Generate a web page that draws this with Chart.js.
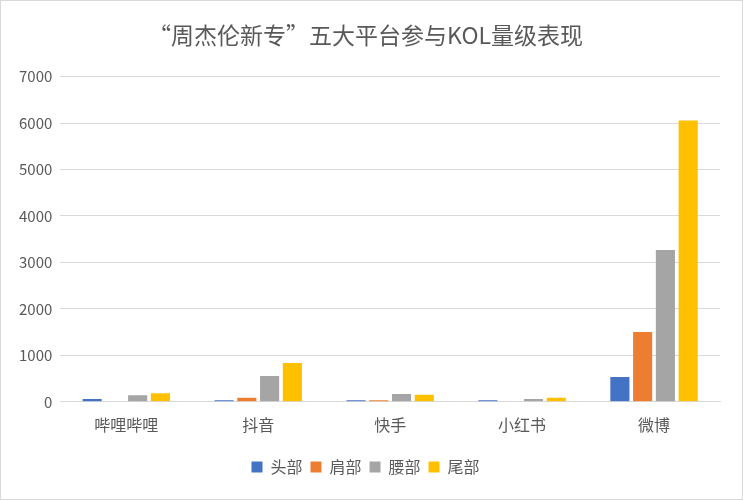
<!DOCTYPE html>
<html>
<head>
<meta charset="utf-8">
<script src="https://cdn.jsdelivr.net/npm/chart.js@4"></script>
<style>
  html, body { margin: 0; padding: 0; background: #fff; }
  #wrap { position: relative; width: 741px; height: 498px; border: 1px solid #d9d9d9; }
</style>
</head>
<body>
<div id="wrap"><canvas id="chart"></canvas></div>
<script>
const platforms = ['哔哩哔哩', '抖音', '快手', '小红书', '微博'];
const seriesNames = ['头部', '肩部', '腰部', '尾部'];
const head = [58, 36, 36, 35, 535];
const shoulder = [0, 86, 32, 0, 1500];
const waist = [143, 557, 170, 60, 3270];
const tail = [186, 835, 150, 85, 6055];
const colors = ['#4472C4', '#ED7D31', '#A5A5A5', '#FFC000'];
const yTicks = [0, 1000, 2000, 3000, 4000, 5000, 6000, 7000];

const font = 'Microsoft YaHei, "Noto Sans CJK SC", sans-serif';
const values = [head, shoulder, waist, tail];

// push the legend a bit away from the axis labels
const legendGap = {
  id: 'legendGap',
  beforeInit(chart) {
    const fit = chart.legend.fit;
    chart.legend.fit = function () {
      fit.bind(chart.legend)();
      this.height += 11;
    };
  },
  afterLayout(chart) {
    chart.legend.top += 10;
  }
};

const ctx = document.getElementById('chart').getContext('2d');
new Chart(ctx, {
  type: 'bar',
  data: {
    labels: platforms,
    datasets: seriesNames.map((name, i) => ({
      label: name,
      data: values[i],
      backgroundColor: colors[i],
      barPercentage: 0.84,
      categoryPercentage: 0.69
    }))
  },
  options: {
    responsive: true,
    maintainAspectRatio: false,
    animation: false,
    layout: { padding: { left: 10, right: 22, top: 4, bottom: 13 } },
    scales: {
      x: {
        grid: { display: false },
        border: { color: '#d9d9d9' },
        ticks: { color: '#595959', font: { size: 16, family: font }, padding: 6 }
      },
      y: {
        min: 0,
        max: 7000,
        afterBuildTicks: axis => { axis.ticks = yTicks.map(v => ({ value: v })); },
        grid: { color: '#d9d9d9', drawTicks: false },
        border: { display: false },
        ticks: {
          color: '#595959',
          font: { size: 15, family: font },
          padding: 8,
          callback: v => String(v)
        }
      }
    },
    plugins: {
      title: {
        display: true,
        text: '“周杰伦新专”五大平台参与KOL量级表现',
        color: '#595959',
        font: { size: 23, family: font, weight: 'normal' },
        padding: { top: 16, bottom: 28 }
      },
      legend: {
        position: 'bottom',
        labels: {
          color: '#595959',
          font: { size: 16, family: font },
          boxWidth: 11,
          boxHeight: 11,
          padding: 8
        }
      },
      tooltip: { enabled: false }
    }
  },
  plugins: [legendGap]
});
</script>
</body>
</html>
